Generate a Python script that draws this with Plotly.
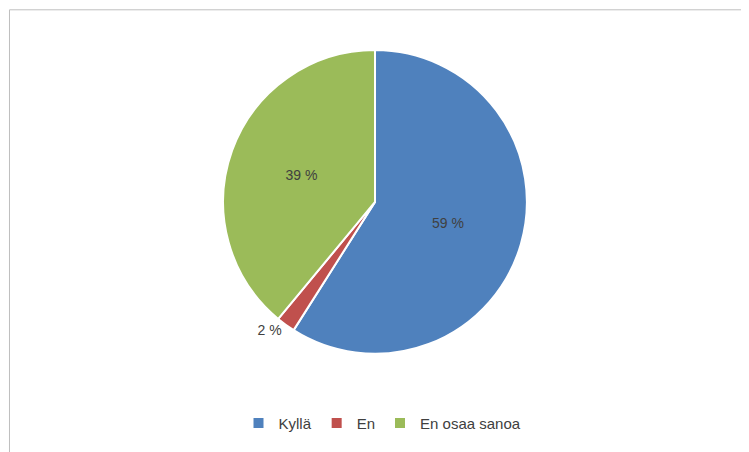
import plotly.graph_objects as go

labels = ["Kyllä", "En", "En osaa sanoa"]
values = [59, 2, 39]
text_labels = ["59 %", "2 %", "39 %"]
colors = ["#4F81BD", "#C0504D", "#9BBB59"]

fig = go.Figure()
fig.add_trace(go.Pie(
    labels=labels, values=values, text=text_labels,
    textinfo="text", textposition=["inside", "outside", "inside"],
    insidetextorientation="horizontal",
    marker=dict(colors=colors, line=dict(color="white", width=2)),
    sort=False, direction="clockwise", rotation=0,
    textfont=dict(size=14, color="#404040"),
    domain=dict(x=[0.287, 0.693], y=[0.235, 0.907]),
))

fig.update_layout(
    width=749, height=452,
    margin=dict(l=0, r=0, t=0, b=0),
    paper_bgcolor="white",
    font=dict(family="Liberation Sans, Arial", size=14, color="#404040"),
    legend=dict(orientation="h", x=0.5, xanchor="center", y=0.045, yanchor="bottom",
                font=dict(size=15)),
    shapes=[dict(type="rect", xref="paper", yref="paper", x0=0.002, y0=0.008, x1=0.99, y1=0.996,
                 line=dict(color="#BFBFBF", width=1))],
)
fig.write_html("out.html")
